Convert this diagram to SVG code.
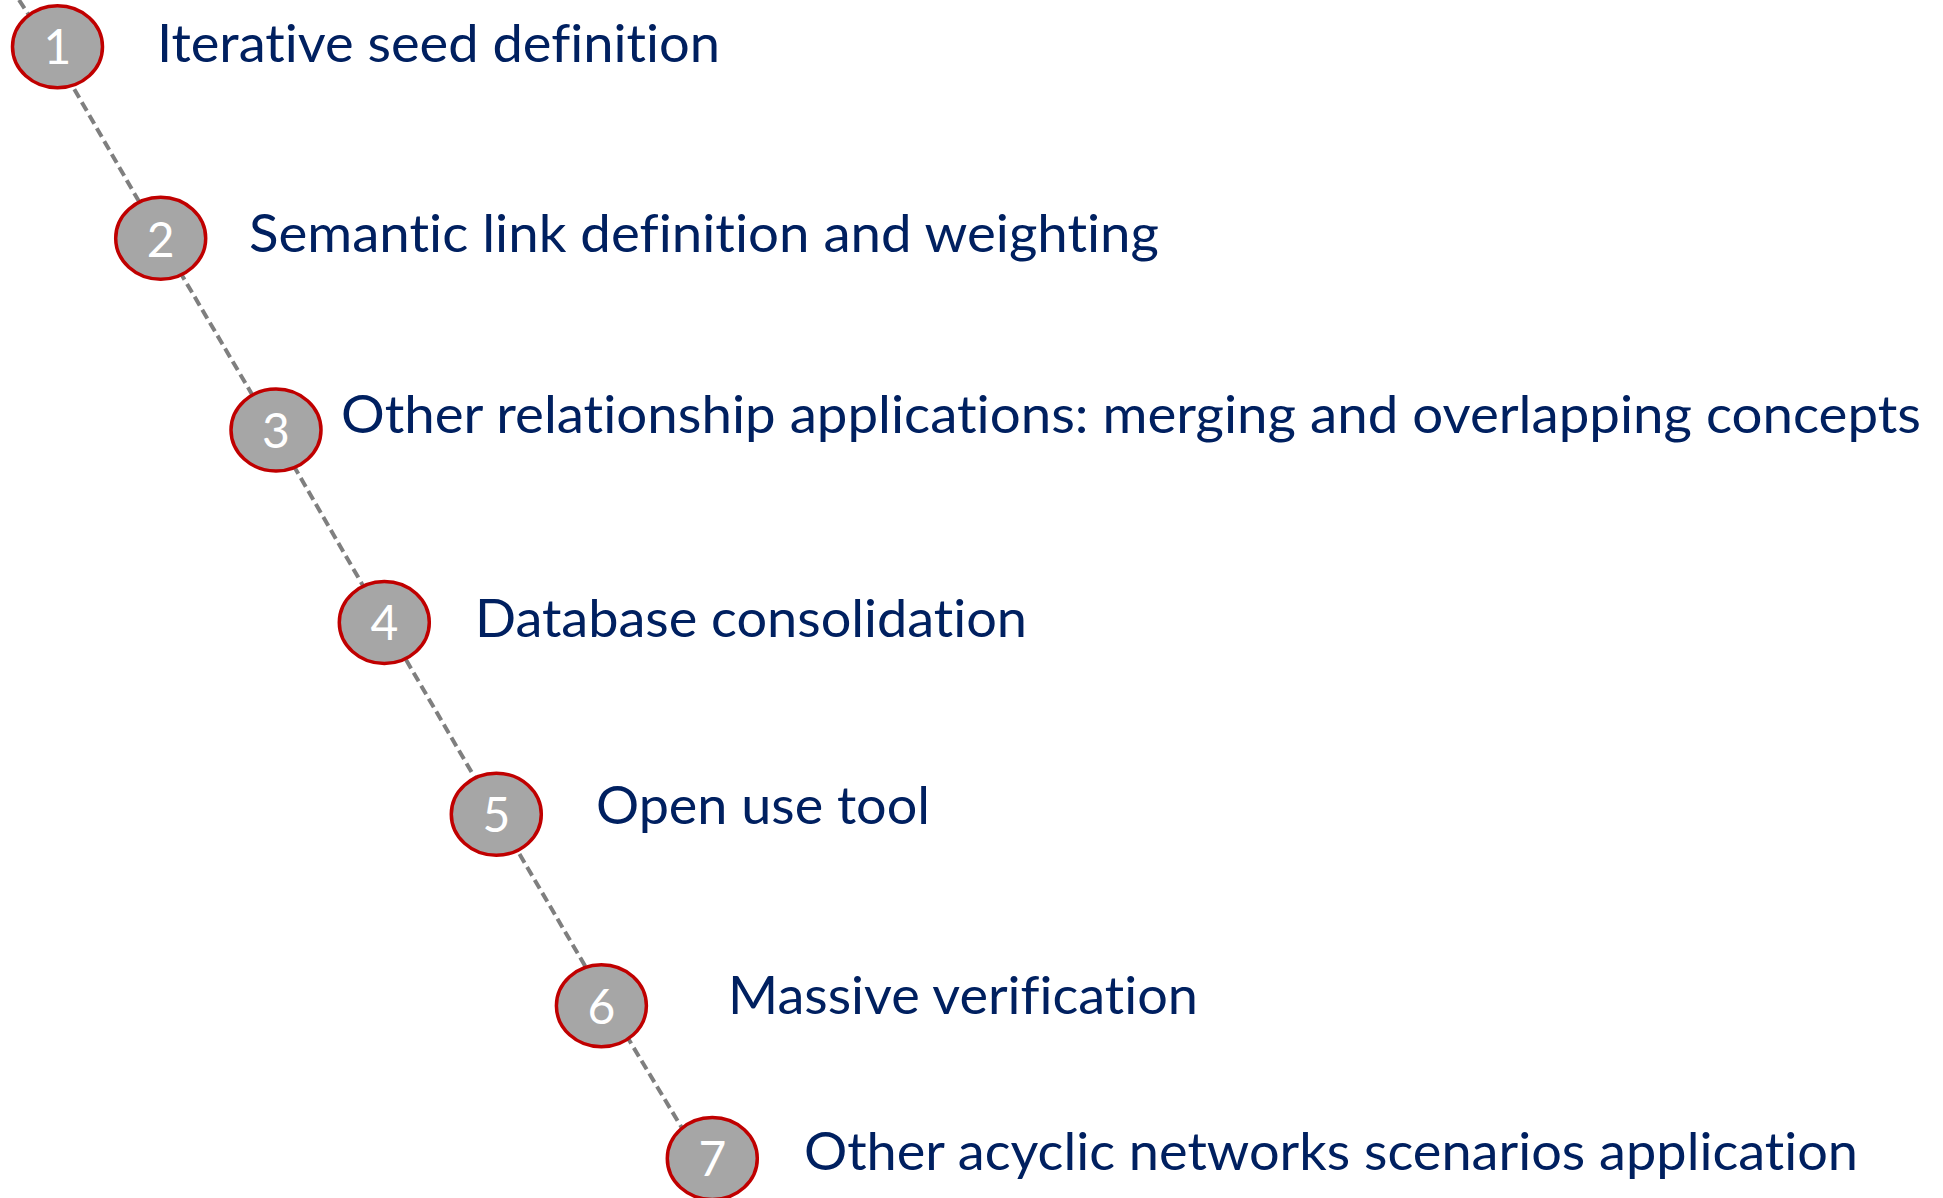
<svg xmlns="http://www.w3.org/2000/svg" width="1943" height="1198" viewBox="0 0 1943 1198">
  <style>
    .step ellipse { fill: #a6a6a6; stroke: #c00000; stroke-width: 3.5; }
    .num { font-family: Lato, "Open Sans", "Liberation Sans", sans-serif; font-size: 48px; fill: #ffffff; text-anchor: middle; }
    .label { font-family: Lato, "Open Sans", "Liberation Sans", sans-serif; font-size: 52px; fill: #002060; font-variant-ligatures: none; }
    .path { fill: none; stroke: #7f7f7f; stroke-width: 4; stroke-dasharray: 10 5; }
  </style>
  <rect width="1943" height="1198" fill="#ffffff"/>

  <!-- dashed timeline running through the steps -->
  <g id="connectors">
    <polyline class="path" points="19,0 50,47 160,238 273,430 384,622 496,814 608,1005 700,1158 724,1198"/>
  </g>

  <g id="step1" class="step">
    <ellipse cx="57.5" cy="46.7" rx="45" ry="41"/>
    <text class="num" x="57.5" y="63.5">1</text>
    <text class="label" x="157" y="62.3" textLength="563" lengthAdjust="spacingAndGlyphs">Iterative seed definition</text>
  </g>
  <g id="step2" class="step">
    <ellipse cx="160.7" cy="238.2" rx="45" ry="41"/>
    <text class="num" x="160.7" y="256.5">2</text>
    <text class="label" x="249" y="252.3" textLength="910" lengthAdjust="spacingAndGlyphs">Semantic link definition and weighting</text>
  </g>
  <g id="step3" class="step">
    <ellipse cx="276" cy="430" rx="45" ry="41"/>
    <text class="num" x="276" y="448">3</text>
    <text class="label" x="341" y="433.3" textLength="1580" lengthAdjust="spacingAndGlyphs">Other relationship applications: merging and overlapping concepts</text>
  </g>
  <g id="step4" class="step">
    <ellipse cx="384.3" cy="622.5" rx="45" ry="41"/>
    <text class="num" x="384.3" y="640">4</text>
    <text class="label" x="475" y="637.3" textLength="552" lengthAdjust="spacingAndGlyphs">Database consolidation</text>
  </g>
  <g id="step5" class="step">
    <ellipse cx="496.3" cy="814.2" rx="45" ry="41"/>
    <text class="num" x="496.3" y="832">5</text>
    <text class="label" x="596" y="823.5" textLength="334" lengthAdjust="spacingAndGlyphs">Open use tool</text>
  </g>
  <g id="step6" class="step">
    <ellipse cx="601.4" cy="1005.8" rx="45" ry="41"/>
    <text class="num" x="601.4" y="1023.5">6</text>
    <text class="label" x="728" y="1014" textLength="470" lengthAdjust="spacingAndGlyphs">Massive verification</text>
  </g>
  <g id="step7" class="step">
    <ellipse cx="712.3" cy="1158.5" rx="45" ry="41"/>
    <text class="num" x="712.3" y="1176">7</text>
    <text class="label" x="804" y="1170" textLength="1054" lengthAdjust="spacingAndGlyphs">Other acyclic networks scenarios application</text>
  </g>
</svg>
